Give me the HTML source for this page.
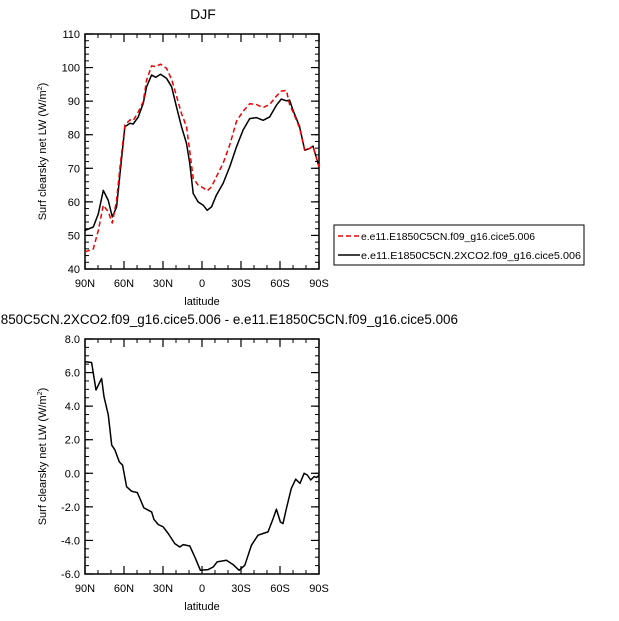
<!DOCTYPE html>
<html><head><meta charset="utf-8"><style>
body{margin:0;background:#fff;}
svg{display:block;font-family:"Liberation Sans",sans-serif;}
</style></head><body>
<svg id="c" width="619" height="621" viewBox="0 0 619 621">
<g id="g"></g>
</svg>
<script>
const xTickLabels=["90N","60N","30N","0","30S","60S","90S"];
const xTickVals=[90,60,30,0,-30,-60,-90];
const topYTicks=[40,50,60,70,80,90,100,110];
const botYTicks=[-6,-4,-2,0,2,4,6,8];
const botYLabels=["-6.0","-4.0","-2.0","0.0","2.0","4.0","6.0","8.0"];
const ctrlLat=[90,83.6,79.8,75.9,72.1,69,65.7,63.1,59.3,55.4,52.9,49,45.2,42.6,38.8,35.5,31.9,27.3,23.4,19.6,15.8,11.9,9.4,6.8,3,-0.9,-4,-7.3,-11.1,-16.2,-21.4,-26.5,-31.6,-36.7,-41.8,-47,-52.1,-57.2,-61,-64.9,-67.4,-70,-75.1,-79,-82.8,-85.4,-90];
const ctrlVal=[45.1,46.0,51.5,59.0,57.0,53.7,60.5,70.4,82.9,84.4,84.2,86.8,89.8,96.3,100.5,100.3,101,99.8,96.5,91.5,86.3,82.4,75,67,65,64.2,63.3,64.5,67.5,71.5,77,84,87,89.2,89,88.1,89,91.5,93,93.2,89,86.8,82,75.4,75.9,76.6,70.4];
const co2Lat=ctrlLat;
const co2Val=[51.5,52.5,56.4,63.4,60.4,55.5,58.5,68.4,82.4,83.4,83.2,85.3,89.3,94.3,97.8,97.1,98,96.8,94.3,88.3,82.4,77.4,71.4,62.5,60,59,57.5,58.5,62,65.5,70.5,76.4,81.4,84.8,85.1,84.3,85.3,88.8,90.6,90.1,90.3,87.3,82.4,75.4,75.9,76.6,70.4];
const diffLat=[90,84.9,81.5,77.2,75.4,72.1,69.5,66.9,63.6,61.1,58,54.2,49.8,47.8,44.7,41.4,38.8,37,33.7,29.9,26,20.9,17.1,14.5,9.4,5.5,1.2,-4.7,-8.6,-11.6,-18.8,-23.9,-28.5,-32.9,-38,-43.1,-47,-50.8,-54.7,-57.2,-60.3,-62.3,-64.9,-68.7,-72.1,-75.4,-78.5,-81,-83.6,-86.2,-88.2,-90];
const diffVal=[6.65,6.6,4.96,5.65,4.56,3.47,1.68,1.38,0.68,0.48,-0.8,-1.07,-1.15,-1.5,-2.06,-2.2,-2.3,-2.74,-3.05,-3.19,-3.59,-4.19,-4.39,-4.25,-4.33,-4.98,-5.78,-5.74,-5.58,-5.28,-5.18,-5.44,-5.78,-5.48,-4.29,-3.69,-3.59,-3.49,-2.7,-2.14,-2.9,-3.0,-2.1,-0.9,-0.35,-0.6,0.0,-0.1,-0.4,-0.2,-0.25,-0.11];

const NS="http://www.w3.org/2000/svg";
const g=document.getElementById('g');
function mk(t,a,p){const e=document.createElementNS(NS,t);for(const k in a)e.setAttribute(k,a[k]);(p||g).appendChild(e);return e;}
const X0=85,X1=319;
function xs(lat){return X0+(90-lat)/180*(X1-X0);}
function panel(top,bot,ymin,ymax,yt,ylab,minorStep,name){
  const ys=v=>bot-(v-ymin)/(ymax-ymin)*(bot-top);
  const pg=mk('g',{});
  
  
  for(let v=ymin;v<=ymax+1e-9;v+=minorStep){const y=ys(v);
    mk('line',{x1:X0,x2:X0+4,y1:y,y2:y,stroke:'#000','stroke-width':1},pg);
    mk('line',{x1:X1,x2:X1-4,y1:y,y2:y,stroke:'#000','stroke-width':1},pg);}
  for(let l=90;l>=-90;l-=10){const x=xs(l);
    mk('line',{x1:x,x2:x,y1:bot,y2:bot-4,stroke:'#000','stroke-width':1},pg);
    mk('line',{x1:x,x2:x,y1:top,y2:top+4,stroke:'#000','stroke-width':1},pg);}
  yt.forEach((v,i)=>{const y=ys(v);
    mk('line',{x1:X0,x2:X0+8,y1:y,y2:y,stroke:'#000','stroke-width':1.2},pg);
    mk('line',{x1:X1,x2:X1-8,y1:y,y2:y,stroke:'#000','stroke-width':1.2},pg);
    const t=mk('text',{x:X0-5,y:y+4,'text-anchor':'end','font-size':11},pg);t.textContent=ylab[i];
    
    });
  xTickVals.forEach((v,i)=>{const x=xs(v);
    mk('line',{x1:x,x2:x,y1:bot,y2:bot-8,stroke:'#000','stroke-width':1.2},pg);
    mk('line',{x1:x,x2:x,y1:top,y2:top+8,stroke:'#000','stroke-width':1.2},pg);
    const t=mk('text',{x:x,y:bot+18,'text-anchor':'middle','font-size':11},pg);t.textContent=xTickLabels[i];
    
    });
  mk('rect',{x:X0,y:top,width:X1-X0,height:bot-top,fill:'none',stroke:'#000','stroke-width':1.5},pg);
  const xl=mk('text',{x:(X0+X1)/2,y:bot+36,'text-anchor':'middle','font-size':11},pg);xl.textContent='latitude';
  
  
  const yl=mk('text',{transform:`translate(46,${(top+bot)/2}) rotate(-90)`,'text-anchor':'middle','font-size':11},pg);
  yl.innerHTML='Surf clearsky net LW (W/m<tspan dy="-4" font-size="7">2</tspan><tspan dy="4">)</tspan>';
  
  
  return ys;
}
function line(lat,val,ys,attrs,name){
  const d=lat.map((l,i)=>(i?'L':'M')+xs(l).toFixed(1)+','+ys(val[i]).toFixed(1)).join('');
  const p=mk('path',Object.assign({d:d,fill:'none','stroke-linejoin':'round'},attrs));
  
  
}
const ys1=panel(34,269,40,110,topYTicks,topYTicks.map(String),2,'top-panel');
line(co2Lat,co2Val,ys1,{stroke:'#000','stroke-width':1.5},'line-2xco2');
line(ctrlLat,ctrlVal,ys1,{stroke:'#e00','stroke-width':1.5,'stroke-dasharray':'5,3'},'line-control');
const ys2=panel(339,574,-6,8,botYTicks,botYLabels,0.5,'bottom-panel');
line(diffLat,diffVal,ys2,{stroke:'#000','stroke-width':1.5},'line-difference');

const t1=mk('text',{x:203,y:19,'text-anchor':'middle','font-size':14});t1.textContent='DJF';


const t2=mk('text',{x:203,y:324,'text-anchor':'middle','font-size':13.5,textLength:510,lengthAdjust:'spacingAndGlyphs'});t2.textContent='e.e11.E1850C5CN.2XCO2.f09_g16.cice5.006 - e.e11.E1850C5CN.f09_g16.cice5.006';


const lg=mk('g',{});


mk('rect',{x:334,y:225,width:250,height:40,fill:'#fff',stroke:'#000','stroke-width':1},lg);
mk('line',{x1:338,x2:360,y1:236,y2:236,stroke:'#e00','stroke-width':1.5,'stroke-dasharray':'5,3'},lg);
mk('line',{x1:338,x2:360,y1:255,y2:255,stroke:'#000','stroke-width':1.5},lg);
const l1=mk('text',{x:361,y:240,'font-size':10.5,textLength:174,lengthAdjust:'spacingAndGlyphs'},lg);l1.textContent='e.e11.E1850C5CN.f09_g16.cice5.006';


const l2=mk('text',{x:361,y:259,'font-size':10.5,textLength:220,lengthAdjust:'spacingAndGlyphs'},lg);l2.textContent='e.e11.E1850C5CN.2XCO2.f09_g16.cice5.006';


</script>
</body></html>
